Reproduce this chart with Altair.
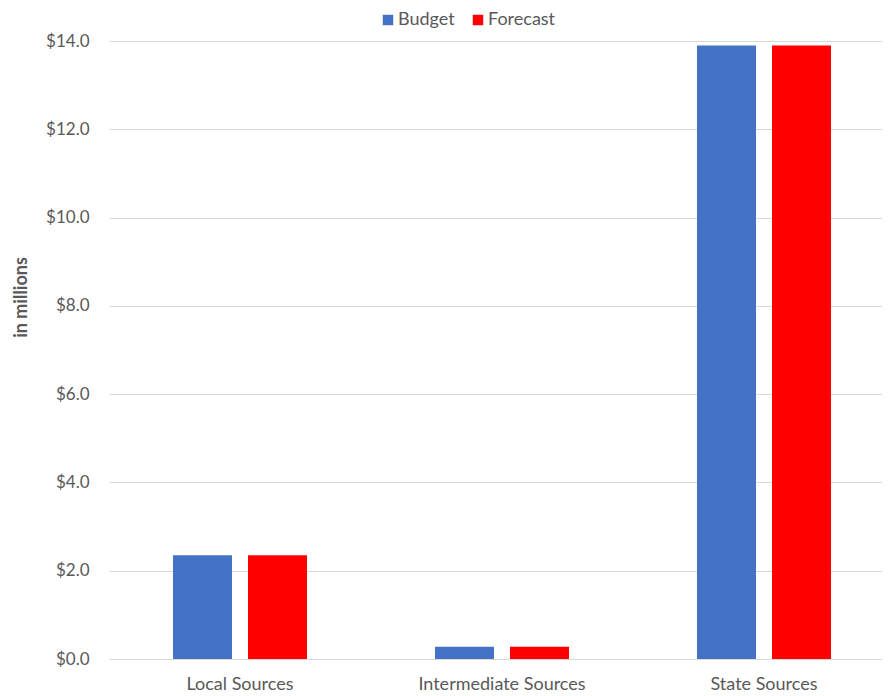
import altair as alt
import pandas as pd

categories = ["Local Sources", "Intermediate Sources", "State Sources"]
series = ["Budget", "Forecast"]
budget = [2.35, 0.28, 13.9]
forecast = [2.35, 0.28, 13.9]
colors = ["#4472C4", "#FF0000"]
y_ticks = [0, 2, 4, 6, 8, 10, 12, 14]

rows = []
for c, b, f in zip(categories, budget, forecast):
    rows.append({"category": c, "series": "Budget", "value": b})
    rows.append({"category": c, "series": "Forecast", "value": f})
df = pd.DataFrame(rows)

FONT = "Lato"
GRAY = "#595959"

chart = alt.Chart(df).mark_bar().encode(
    x=alt.X("category:N", sort=categories, title=None,
            scale=alt.Scale(range=[0, 786], paddingInner=0, paddingOuter=0),
            axis=alt.Axis(labelAngle=0, ticks=False, domainColor="#D9D9D9",
                          labelColor=GRAY, labelFont=FONT, labelFontSize=18,
                          labelPadding=16, grid=False)),
    xOffset=alt.XOffset("series:N", sort=series,
                        scale=alt.Scale(paddingInner=0.213, paddingOuter=0.853)),
    y=alt.Y("value:Q", title="in millions",
            scale=alt.Scale(domain=[0, 14], nice=False),
            axis=alt.Axis(values=y_ticks, format="$.1f", ticks=False, domain=False,
                          gridColor="#D9D9D9", labelColor=GRAY, labelFont=FONT,
                          labelFontSize=17, labelPadding=20,
                          titleColor=GRAY, titleFont=FONT, titleFontSize=18,
                          titleFontWeight="bold", titlePadding=15, titleY=256)),
    color=alt.Color("series:N", sort=series,
                    scale=alt.Scale(domain=series, range=colors),
                    legend=alt.Legend(title=None, orient="none", direction="horizontal",
                                      legendX=270, legendY=-30, symbolType="square",
                                      symbolSize=110, symbolStrokeWidth=0,
                                      labelColor=GRAY, labelFont=FONT, labelFontSize=18,
                                      columnPadding=14, labelOffset=1)),
).properties(
    width=773, height=618,
    autosize="none",
    padding={"left": 101, "top": 33, "right": 0, "bottom": 37},
).configure_view(stroke=None)

chart.save("out.html", embed_options={"renderer": "svg", "actions": False})
